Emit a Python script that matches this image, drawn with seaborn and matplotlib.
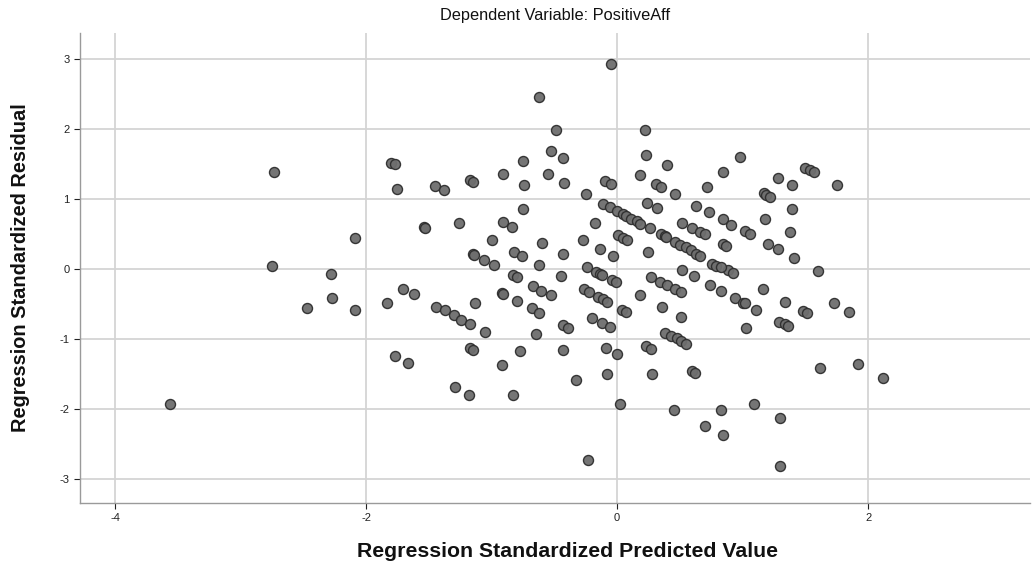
import matplotlib
matplotlib.use("Agg")
import matplotlib.pyplot as plt
import seaborn as sns
import pandas as pd

# Regression standardized predicted values (x) and residuals (y)
pred = [
    -2.73, -1.80, -1.77, -1.75, -1.45, -1.38, -1.17, -1.15, -0.91, -0.75, -0.74,
    -0.05, -0.62, -0.49, 0.22, -0.53, -0.43, -0.55, -0.42, -0.25, -0.10, -0.05,
    0.23, 0.40, 0.18, 0.31, 0.35, 0.46, 0.72, 0.84, 0.98, 1.28, 1.39, 1.50,
    1.54, 1.57, 1.75, 1.17, 1.19, 1.22,
    1.39, 1.18, 0.84, 0.91, 1.02, 1.06, 1.38, 1.20, 1.28, 1.41, 0.84, 0.87,
    0.88, 0.92, 1.60, 0.83, 1.16, 0.94, 1.00, 1.02, 1.34, 1.11, 1.48, 1.51,
    1.73, 1.85, 1.29, 1.34, 1.36, 1.03, 0.76, 0.79, 0.83,
    0.83, 0.84, 1.09, 1.30, 1.30, 1.62, 1.92, 2.12,
    -0.43, -0.33, -0.09, 0.00, -0.08, 0.02, -0.23, 0.23, 0.27, 0.28, 0.45,
    0.60, 0.62, 0.70, 0.38, 0.43, 0.48, 0.51, 0.55,
    -1.77, -1.67, -1.17, -1.15, -0.77, -0.92, -1.29, -1.18, -0.83,
    -3.56, -2.75, -2.28, -2.27, -2.47,
    -2.09, -2.09, -1.54, -1.53, -1.26, -0.91, -0.84, -0.75, -1.00, -1.15,
    -1.14, -1.06, -0.98, -0.82, -0.76, -0.83, -0.80, -1.71, -1.62, -1.83,
    -1.44, -1.37, -1.30, -1.24, -1.17, -1.13, -0.92, -0.91, -0.80, -1.05,
    -0.11, -0.06, 0.00, 0.05, 0.07, 0.11, 0.16, 0.18, 0.26, 0.24, 0.32, 0.63,
    0.73, 0.52, 0.60, 0.66, 0.70, 0.35, 0.38, 0.39, 0.46, 0.50, 0.55, 0.59,
    0.63, 0.66, 0.25, 0.01, 0.05, 0.08, -0.18, -0.27, -0.14, -0.03, -0.60,
    -0.43, -0.62, -0.45, -0.24, -0.17, -0.14, -0.12, -0.04, -0.01, -0.67,
    -0.61, -0.53, -0.26, -0.22, -0.15, -0.11, -0.08, -0.68, -0.62, -0.43,
    -0.39, -0.20, -0.12, -0.06, -0.65, 0.04, 0.07, 0.18, 0.27, 0.34, 0.40,
    0.46, 0.51, 0.52, 0.61, 0.74, 0.36, 0.51,
]
resid = [
    1.39, 1.52, 1.50, 1.14, 1.19, 1.13, 1.27, 1.24, 1.36, 1.54, 1.20,
    2.93, 2.45, 1.98, 1.99, 1.68, 1.58, 1.36, 1.23, 1.07, 1.26, 1.22,
    1.63, 1.48, 1.34, 1.21, 1.17, 1.07, 1.17, 1.39, 1.60, 1.30, 1.20, 1.44,
    1.41, 1.38, 1.20, 1.08, 1.06, 1.03,
    0.86, 0.71, 0.71, 0.63, 0.54, 0.50, 0.53, 0.36, 0.29, 0.16, 0.36, 0.33,
    -0.01, -0.05, -0.03, -0.32, -0.28, -0.42, -0.48, -0.49, -0.47, -0.58, -0.60, -0.63,
    -0.49, -0.61, -0.76, -0.79, -0.82, -0.84, 0.07, 0.05, 0.03,
    -2.01, -2.37, -1.93, -2.13, -2.81, -1.41, -1.36, -1.55,
    -1.15, -1.59, -1.13, -1.22, -1.50, -1.93, -2.72, -1.10, -1.14, -1.50, -2.01,
    -1.46, -1.48, -2.24, -0.92, -0.96, -0.99, -1.03, -1.07,
    -1.24, -1.34, -1.13, -1.15, -1.17, -1.37, -1.69, -1.80, -1.80,
    -1.92, 0.05, -0.07, -0.42, -0.56,
    0.44, -0.59, 0.60, 0.58, 0.66, 0.67, 0.60, 0.86, 0.41, 0.22,
    0.20, 0.13, 0.06, 0.25, 0.19, -0.09, -0.11, -0.28, -0.36, -0.49,
    -0.54, -0.59, -0.65, -0.73, -0.79, -0.48, -0.34, -0.35, -0.46, -0.90,
    0.93, 0.88, 0.83, 0.78, 0.76, 0.71, 0.68, 0.65, 0.58, 0.94, 0.87, 0.90,
    0.82, 0.66, 0.59, 0.53, 0.50, 0.50, 0.47, 0.46, 0.39, 0.35, 0.31, 0.27,
    0.22, 0.19, 0.25, 0.48, 0.44, 0.41, 0.66, 0.41, 0.28, 0.18, 0.37,
    0.21, 0.06, -0.10, 0.03, -0.04, -0.07, -0.08, -0.16, -0.19, -0.24,
    -0.31, -0.37, -0.29, -0.33, -0.40, -0.43, -0.47, -0.56, -0.63, -0.80,
    -0.84, -0.70, -0.77, -0.83, -0.93, -0.58, -0.61, -0.37, -0.11, -0.18, -0.23,
    -0.29, -0.33, -0.01, -0.10, -0.23, -0.54, -0.69,
]

x_ticks = [-4, -2, 0, 2]
y_ticks = [-3, -2, -1, 0, 1, 2, 3]
title = "Dependent Variable: PositiveAff"
x_label = "Regression Standardized Predicted Value"
y_label = "Regression Standardized Residual"

df = pd.DataFrame({"pred": pred, "resid": resid})

sns.set_theme(style="white")
plt.rcParams["font.family"] = ["Liberation Sans", "DejaVu Sans"]
plt.rcParams["axes.unicode_minus"] = False

fig = plt.figure(figsize=(10.36, 5.67), dpi=100)
ax = fig.add_axes([0.0772, 0.1129, 0.9170, 0.8289])

ax.set_xticks(x_ticks)
ax.set_yticks(y_ticks)
ax.grid(True, color="#d4d4d4", linewidth=1.3)
ax.set_axisbelow(True)

sns.scatterplot(data=df, x="pred", y="resid", ax=ax, s=52,
                color="#6e6e6e", edgecolor="#2e2e2e", linewidth=1.0,
                alpha=0.95, zorder=3)

ax.set_xlim(-4.28, 3.29)
ax.set_ylim(-3.34, 3.37)

for side in ["top", "right"]:
    ax.spines[side].set_visible(False)
for side in ["left", "bottom"]:
    ax.spines[side].set_color("#9a9a9a")
    ax.spines[side].set_linewidth(1.0)

ax.tick_params(axis="both", which="major", labelsize=8, colors="#222222",
               length=4, width=0.8, direction="out", bottom=True, left=True)
for t in ax.get_xticklabels() + ax.get_yticklabels():
    t.set_color("#222222")

ax.set_title(title, fontsize=11.8, color="#111111", pad=9)
ax.set_xlabel(x_label, fontsize=15.3, fontweight="bold", color="#111111", labelpad=12)
ax.set_ylabel(y_label, fontsize=14.4, fontweight="bold", color="#111111", labelpad=21)
ax.xaxis.set_label_coords(0.513, -0.083)
ax.xaxis.label.set_verticalalignment("top")

fig.savefig("out.png", dpi=100)
